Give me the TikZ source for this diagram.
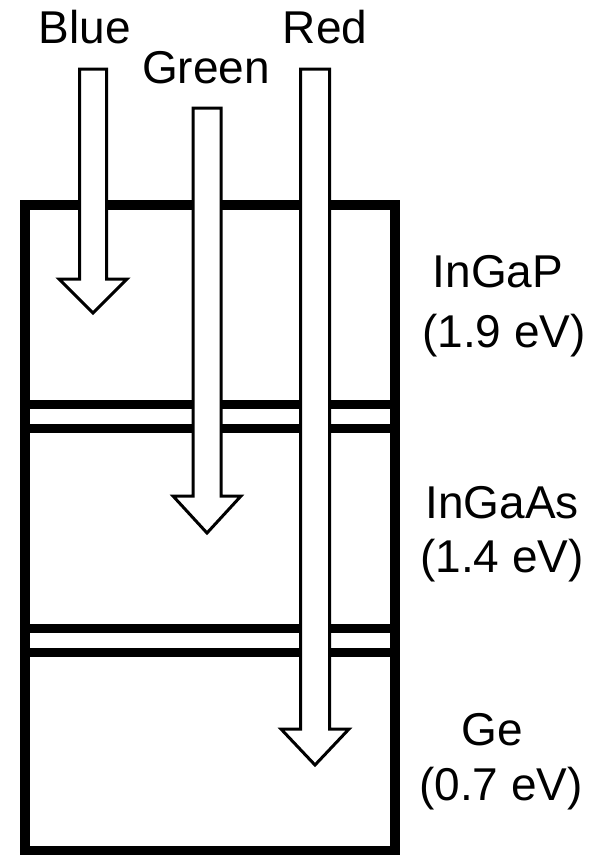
\documentclass[tikz,border=0pt]{standalone}
\usepackage{fontspec}
\setmainfont{Liberation Sans}
\begin{document}
\begin{tikzpicture}[x=1pt,y=-1pt,
  lbl/.style={inner sep=0pt, anchor=base, font=\fontsize{46}{50}\selectfont},
  frame/.style={draw=black, line width=10pt},
  sepline/.style={draw=black, line width=9pt},
  lightarrow/.style={draw=black, fill=white, line width=3pt, line join=miter}]
\useasboundingbox[fill=white] (0,0) rectangle (600,855);
% cell stack
\draw[frame] (25,205) rectangle (395,851);
\draw[sepline] (25,404.5) -- (395,404.5);
\draw[sepline] (25,428) -- (395,428);
\draw[sepline] (25,628.5) -- (395,628.5);
\draw[sepline] (25,652.5) -- (395,652.5);
% arrows
\draw[lightarrow] (79.5,69) -- (106.5,69) -- (106.5,279) -- (127,279) -- (93,313) -- (59,279) -- (79.5,279) -- cycle;
\draw[lightarrow] (193,108) -- (221,108) -- (221,496) -- (241,496) -- (207,533) -- (173,496) -- (193,496) -- cycle;
\draw[lightarrow] (300.5,69) -- (329.5,69) -- (329.5,729) -- (349,729) -- (315,765) -- (281,729) -- (300.5,729) -- cycle;
% labels
\node[lbl] (blue) at (85,43) {Blue};
\node[lbl] (green) at (206,83) {Green};
\node[lbl] (red) at (325,43) {Red};
\node[lbl] (ingap) at (498,287) {InGaP};
\node[lbl] (ingapev) at (504,347) {(1.9 eV)};
\node[lbl] (ingaas) at (502,518) {InGaAs};
\node[lbl] (ingaasev) at (502,572) {(1.4 eV)};
\node[lbl] (ge) at (492,745) {Ge};
\node[lbl] (geev) at (501,800) {(0.7 eV)};
\end{tikzpicture}
\end{document}
